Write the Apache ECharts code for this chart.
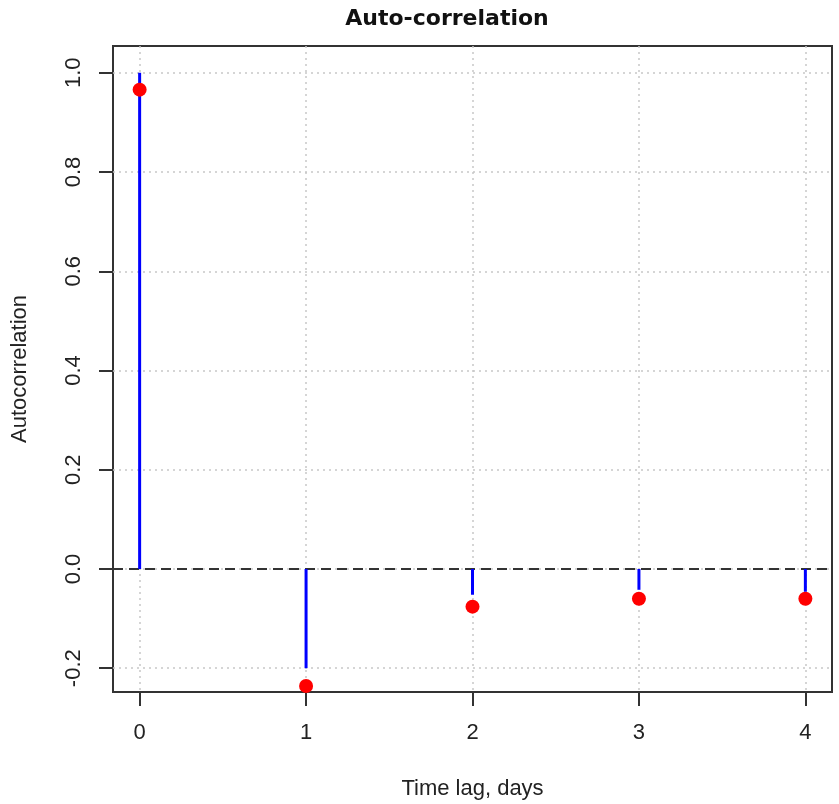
<!DOCTYPE html>
<html>
<head>
<meta charset="utf-8">
<script src="https://cdn.jsdelivr.net/npm/echarts@6/dist/echarts.min.js"></script>
<style>
  html, body { margin: 0; padding: 0; background: #fff; }
  #chart { width: 839px; height: 804px; }
</style>
</head>
<body>
<div id="chart"></div>
<script>
// lags and values
const lags = [0, 1, 2, 3, 4]
const stemValues = [1.0, -0.2, -0.052, -0.042, -0.046]
const pointValues = [0.966, -0.236, -0.076, -0.06, -0.06]
const xTicks = [0, 1, 2, 3, 4]
const yTicks = [-0.2, 0, 0.2, 0.4, 0.6, 0.8, 1.0]

const chart = echarts.init(document.getElementById('chart'))

const labelFont = { fontFamily: 'Liberation Sans', fontSize: 22, color: '#222' }
const gridLine = { show: true, lineStyle: { color: '#c8c8c8', type: [2, 4], width: 1.5 } }
const tick = { show: true, inside: false, length: 14, lineStyle: { color: '#333', width: 2 } }

chart.setOption({
  animation: false,
  title: {
    text: 'Auto-correlation',
    left: 442,
    textAlign: 'center',
    top: 3,
    textStyle: { fontFamily: 'DejaVu Sans', fontWeight: 'bold', fontSize: 22, color: '#111' },
  },
  grid: {
    left: 113,
    right: 7,
    top: 46,
    bottom: 112,
    outerBoundsMode: 'none',
    show: true,
    borderColor: '#333',
    borderWidth: 2,
    backgroundColor: 'transparent',
  },
  xAxis: {
    type: 'value',
    min: -0.16,
    max: 4.16,
    name: 'Time lag, days',
    nameLocation: 'middle',
    nameGap: 86,
    nameTextStyle: labelFont,
    axisLine: { show: false, onZero: false },
    axisTick: Object.assign({ customValues: xTicks }, tick),
    axisLabel: Object.assign({ customValues: xTicks, margin: 30 }, labelFont),
    splitLine: gridLine,
  },
  yAxis: {
    type: 'value',
    min: -0.248,
    max: 1.054,
    name: 'Autocorrelation',
    nameLocation: 'middle',
    nameGap: 82,
    nameTextStyle: labelFont,
    axisLine: { show: false, onZero: false },
    axisTick: Object.assign({ customValues: yTicks }, tick),
    axisLabel: Object.assign({
      customValues: yTicks,
      margin: 28,
      rotate: 90,
      align: 'center',
      verticalAlign: 'bottom',
      formatter: (v) => v.toFixed(1),
    }, labelFont),
    splitLine: gridLine,
  },
  series: [
    {
      type: 'bar',
      barWidth: 3,
      itemStyle: { color: '#0000ff' },
      data: lags.map((l, i) => [l, stemValues[i]]),
      z: 3,
    },
    {
      type: 'scatter',
      symbol: 'circle',
      symbolSize: 14,
      itemStyle: { color: '#ff0000', opacity: 1 },
      data: lags.map((l, i) => [l, pointValues[i]]),
      z: 4,
      markLine: {
        silent: true,
        symbol: 'none',
        label: { show: false },
        lineStyle: { color: '#333', type: [10, 6], width: 2 },
        data: [{ yAxis: 0 }],
        z: 2,
      },
    },
  ],
})
</script>
</body>
</html>
